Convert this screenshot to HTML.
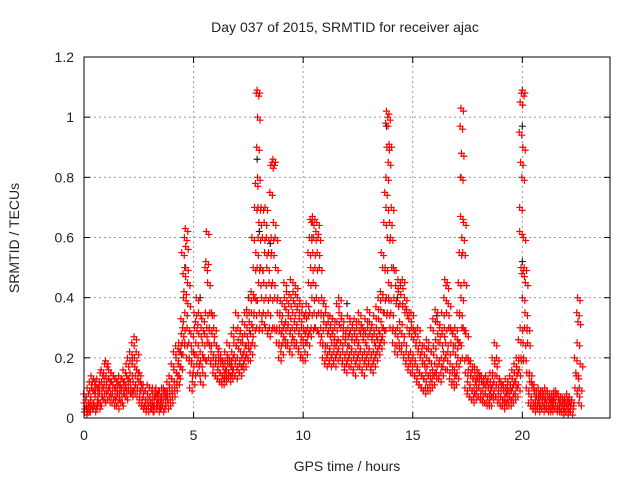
<!DOCTYPE html>
<html><head><meta charset="utf-8"><style>
body{margin:0;background:#fff}
svg{display:block;font-family:"Liberation Sans",sans-serif}
</style></head><body>
<svg id="chart" width="640" height="480">
<text x="345" y="32" font-size="14" text-anchor="middle" fill="#222">Day 037 of 2015, SRMTID for receiver ajac</text>
<text x="347" y="471" font-size="14" text-anchor="middle" fill="#222">GPS time / hours</text>
<text transform="translate(19,238) rotate(-90)" font-size="14" text-anchor="middle" fill="#222">SRMTID / TECUs</text>
<g id="grid"></g>
<g id="ticks"></g>
<g id="black"></g>
<g id="red"></g>
<rect x="84" y="57" width="526" height="361" fill="none" stroke="#000" stroke-width="1"/>
</svg>
<script>
const xTicks=[0,5,10,15,20];
const yTicks=[0,0.2,0.4,0.6,0.8,1,1.2];
const yTickLabels=["0","0.2","0.4","0.6","0.8","1","1.2"];
const redData=[
[0.0,.05,.03,.08,.02],[0.1,.04,.1,.06,.03],[0.2,.08,.12,.03,.05],[0.3,.06,.1,.04,.14],[0.4,.09,.05,.12,.03],
[0.5,.07,.11,.04,.09],[0.6,.1,.06,.13,.04],[0.7,.08,.15,.05,.11],[0.8,.12,.07,.16,.09],[0.9,.1,.18,.06,.13],
[1.0,.14,.08,.19,.11],[1.1,.09,.13,.06,.16],[1.2,.12,.07,.1,.15],[1.3,.08,.14,.05,.11],[1.4,.1,.06,.13,.09],
[1.5,.07,.12,.04,.1],[1.6,.11,.06,.14,.08],[1.7,.09,.13,.05,.1],[1.8,.12,.08,.16,.1],[1.9,.1,.14,.07,.18],
[2.0,.13,.09,.2,.11],[2.1,.15,.1,.22,.08],[2.2,.18,.12,.25,.09],[2.3,.2,.14,.27,.1],[2.4,.16,.1,.22,.07],
[2.5,.12,.07,.15,.05],[2.6,.09,.05,.12,.04],[2.7,.07,.04,.1,.03],[2.8,.06,.03,.09,.05],[2.9,.08,.04,.11,.06],
[3.0,.07,.03,.1,.05],[3.1,.05,.08,.03,.1],[3.2,.06,.09,.04,.07],[3.3,.08,.05,.1,.03],[3.4,.06,.09,.04,.07],
[3.5,.07,.1,.05,.03],[3.6,.05,.08,.04,.1],[3.7,.07,.04,.09,.06],[3.8,.09,.05,.12,.07],[3.9,.1,.06,.14,.08],
[4.0,.13,.08,.18,.1],[4.1,.16,.1,.22,.12],[4.2,.2,.12,.24,.15],[4.3,.18,.22,.14,.25],[4.4,.22,.28,.17,.33],
[4.5,.3,.4,.25,.48,.55],[4.6,.35,.5,.6,.63,.42,.25,.57],[4.7,.3,.38,.2,.45],[4.8,.2,.15,.25,.1],[4.9,.18,.12,.28,.22],
[5.0,.22,.3,.15,.35],[5.1,.25,.18,.32,.4],[5.2,.2,.28,.15,.35],[5.3,.22,.3,.18,.12],[5.4,.25,.2,.33,.15],
[5.5,.28,.35,.2,.5],[5.6,.3,.45,.62,.25,.52],[5.7,.25,.35,.2,.3],[5.8,.22,.28,.18,.35],[5.9,.2,.25,.15,.3],
[6.0,.18,.24,.14,.2],[6.1,.16,.2,.13,.22],[6.2,.15,.18,.12,.2],[6.3,.14,.17,.12,.19],[6.4,.15,.19,.13,.22],
[6.5,.16,.2,.14,.25],[6.6,.15,.18,.13,.2],[6.7,.17,.22,.14,.28],[6.8,.2,.25,.15,.3],[6.9,.18,.24,.14,.35],
[7.0,.2,.26,.16,.3],[7.1,.18,.22,.15,.28],[7.2,.2,.25,.17,.32],[7.3,.22,.28,.18,.35],[7.4,.24,.3,.2,.36],
[7.5,.25,.32,.2,.4],[7.6,.28,.35,.22,.42],[7.7,.3,.4,.25,.5,.6],[7.8,.4,.55,.7,.78,.35],[7.9,.5,.7,.9,1.0,1.08,1.09,.6,.3,.8],
[8.0,.35,.5,.65,.3,.45],[8.1,.4,.6,.7,.32,.5],[8.2,.45,.55,.35,.65],[8.3,.4,.5,.3,.6,.7],[8.4,.35,.45,.28,.55],
[8.5,.4,.6,.75,.84,.3],[8.6,.45,.65,.85,.86,.55,.3],[8.7,.4,.5,.3,.6],[8.8,.3,.4,.25,.35],[8.9,.25,.35,.2,.3],
[9.0,.28,.38,.22,.32],[9.1,.3,.4,.25,.45],[9.2,.32,.42,.26,.36],[9.3,.3,.38,.24,.34],[9.4,.28,.4,.22,.46],
[9.5,.3,.42,.25,.35],[9.6,.32,.44,.26,.38],[9.7,.3,.4,.24,.36],[9.8,.28,.38,.22,.33],[9.9,.25,.35,.2,.3],
[10.0,.26,.34,.2,.3],[10.1,.28,.38,.22,.35],[10.2,.3,.45,.25,.55],[10.3,.35,.5,.6,.66,.28],[10.4,.4,.55,.65,.67,.3],
[10.5,.35,.5,.6,.3,.45],[10.6,.4,.55,.62,.65,.3],[10.7,.35,.5,.6,.28],[10.8,.3,.4,.25,.35],[10.9,.25,.32,.2,.38],
[11.0,.22,.3,.18,.35],[11.1,.24,.32,.2,.28],[11.2,.22,.3,.18,.34],[11.3,.25,.33,.2,.28],[11.4,.22,.3,.18,.26],
[11.5,.24,.32,.2,.38],[11.6,.26,.35,.22,.4],[11.7,.25,.33,.2,.3],[11.8,.22,.3,.18,.27],[11.9,.2,.28,.16,.25],
[12.0,.22,.3,.18,.34],[12.1,.24,.32,.2,.28],[12.2,.22,.3,.17,.26],[12.3,.2,.28,.15,.33],[12.4,.22,.3,.18,.26],
[12.5,.24,.32,.2,.35],[12.6,.22,.3,.17,.28],[12.7,.2,.26,.15,.3],[12.8,.22,.28,.18,.33],[12.9,.24,.3,.2,.36],
[13.0,.22,.28,.18,.32],[13.1,.2,.26,.16,.3],[13.2,.22,.28,.18,.34],[13.3,.24,.3,.2,.37],[13.4,.26,.33,.22,.4],
[13.5,.28,.36,.24,.42],[13.6,.3,.4,.26,.5,.55],[13.7,.35,.5,.65,.75,.3],[13.8,.4,.6,.8,.9,.98,1.02,.35,.7],[13.9,.45,.65,.85,.91,1.0,.4],
[14.0,.35,.5,.6,.7,.3],[14.1,.3,.4,.25,.5],[14.2,.28,.38,.22,.44],[14.3,.3,.42,.24,.46],[14.4,.32,.44,.25,.38],
[14.5,.28,.38,.22,.46],[14.6,.25,.35,.2,.4],[14.7,.22,.3,.18,.36],[14.8,.2,.28,.16,.33],[14.9,.22,.3,.18,.35],
[15.0,.2,.26,.15,.3],[15.1,.18,.24,.14,.28],[15.2,.16,.22,.12,.3],[15.3,.15,.2,.11,.25],[15.4,.14,.18,.1,.22],
[15.5,.13,.18,.09,.24],[15.6,.15,.2,.1,.26],[15.7,.14,.19,.1,.23],[15.8,.15,.22,.11,.3],[15.9,.16,.24,.12,.33],
[16.0,.18,.26,.14,.36],[16.1,.2,.28,.15,.32],[16.2,.18,.25,.13,.3],[16.3,.2,.28,.15,.35],[16.4,.22,.3,.17,.4],
[16.5,.25,.35,.2,.44,.46],[16.6,.22,.3,.16,.38],[16.7,.18,.25,.13,.3],[16.8,.15,.22,.11,.28],[16.9,.16,.24,.12,.3],
[17.0,.18,.26,.14,.35],[17.1,.25,.35,.45,.55,.2],[17.2,.4,.6,.8,.88,.97,1.03,.3,.67],[17.3,.3,.45,.55,.65,.2],[17.4,.15,.2,.1,.28],
[17.5,.12,.16,.08,.2],[17.6,.1,.14,.07,.18],[17.7,.09,.13,.06,.16],[17.8,.1,.14,.07,.17],[17.9,.11,.15,.08,.13],
[18.0,.1,.13,.07,.15],[18.1,.08,.12,.06,.14],[18.2,.09,.13,.06,.11],[18.3,.08,.11,.05,.14],[18.4,.07,.1,.05,.12],
[18.5,.08,.12,.05,.15],[18.6,.1,.15,.07,.2],[18.7,.12,.18,.08,.25],[18.8,.1,.14,.07,.2],[18.9,.08,.12,.05,.1],
[19.0,.07,.1,.05,.12],[19.1,.06,.09,.04,.11],[19.2,.07,.1,.05,.13],[19.3,.08,.12,.05,.1],[19.4,.07,.11,.05,.14],
[19.5,.09,.13,.06,.16],[19.6,.11,.15,.07,.18],[19.7,.12,.17,.08,.2],[19.8,.15,.2,.1,.26],[19.9,.3,.5,.7,.85,.95,1.05,.2,.62],
[20.0,.4,.6,.8,.9,1.08,1.09,.25,.48],[20.1,.3,.45,.5,.35,.2],[20.2,.15,.25,.1,.3],[20.3,.08,.12,.05,.15],[20.4,.06,.1,.04,.12],
[20.5,.05,.08,.03,.1],[20.6,.06,.09,.04,.07],[20.7,.05,.08,.03,.1],[20.8,.06,.09,.04,.08],[20.9,.05,.07,.03,.09],
[21.0,.06,.08,.04,.1],[21.1,.05,.07,.03,.09],[21.2,.04,.07,.03,.06],[21.3,.05,.08,.03,.07],[21.4,.06,.09,.04,.08],
[21.5,.05,.07,.03,.09],[21.6,.04,.06,.03,.08],[21.7,.05,.07,.03,.06],[21.8,.04,.06,.02,.07],[21.9,.05,.07,.03,.06],
[22.0,.04,.06,.02,.08],[22.1,.05,.07,.03,.06],[22.2,.04,.06,.02,.05],
[22.4,.1,.15,.2],[22.5,.25,.32,.35,.4,.14,.08],[22.6,.1,.18,.05]
];
const blackData=[[0.1,.07],[0.5,.12],[2.2,.2],[4.6,.5],[5.3,.4],[7.9,.86],[8.0,.62],[8.5,.58],[10.4,.6],[13.8,.97],[14.3,.4],[17.2,.8],[20.0,.97],[20.0,.52],[7.5,.4],[12.0,.38],[16.1,.34]];

const X0=84,X1=610,Y0=418,Y1=57,XMAX=24,YMAX=1.2;
function sx(v){return X0+(X1-X0)*v/XMAX;}
function sy(v){return Y0-(Y0-Y1)*v/YMAX;}
const NS="http://www.w3.org/2000/svg";
function mk(tag,attrs,parent){const e=document.createElementNS(NS,tag);for(const k in attrs)e.setAttribute(k,attrs[k]);parent.appendChild(e);return e;}
const grid=document.getElementById('grid'),ticks=document.getElementById('ticks');
yTicks.forEach((v,i)=>{
  const y=sy(v);
  if(v>0&&v<YMAX){const g=mk('line',{x1:X0,x2:X1,y1:y,y2:y,stroke:'#999','stroke-dasharray':'2,3'},grid);
  
  }
  mk('line',{x1:X0,x2:X0+6,y1:y,y2:y,stroke:'#000'},ticks);
  mk('line',{x1:X1-6,x2:X1,y1:y,y2:y,stroke:'#000'},ticks);
  const t=mk('text',{x:X0-10,y:y+5,'font-size':14,'text-anchor':'end',fill:'#222'},ticks);
  t.textContent=yTickLabels[i];
  
  
});
xTicks.forEach(v=>{
  const x=sx(v);
  if(v>0){const g=mk('line',{x1:x,x2:x,y1:Y0,y2:Y1,stroke:'#999','stroke-dasharray':'2,3'},grid);
  
  }
  mk('line',{x1:x,x2:x,y1:Y0,y2:Y0-6,stroke:'#000'},ticks);
  mk('line',{x1:x,x2:x,y1:Y1,y2:Y1+6,stroke:'#000'},ticks);
  const t=mk('text',{x:x,y:Y0+22,'font-size':14,'text-anchor':'middle',fill:'#222'},ticks);
  t.textContent=String(v);
  
  
});
function plus(x,y,c,parent,name){
  const p=mk('path',{d:`M${x-3.5},${y}h7M${x},${y-3.5}v7`,stroke:c,'stroke-width':1.2,fill:'none'},parent);
  
  
}
const blk=document.getElementById('black');
blackData.forEach(d=>plus(sx(d[0]),sy(d[1]),'#222',blk,'black-point'));
const red=document.getElementById('red');
redData.forEach(g=>{
  const t=g[0];
  for(let i=1;i<g.length;i++){
    const off=((i*37)%5-2)*0.02;
    plus(sx(t+off),sy(g[i]),'#f00',red,'red-point');
    plus(sx(t+off)+2.5,sy(g[i])+3,'#f00',red,'red-point');
  }
});
</script>
</body></html>
